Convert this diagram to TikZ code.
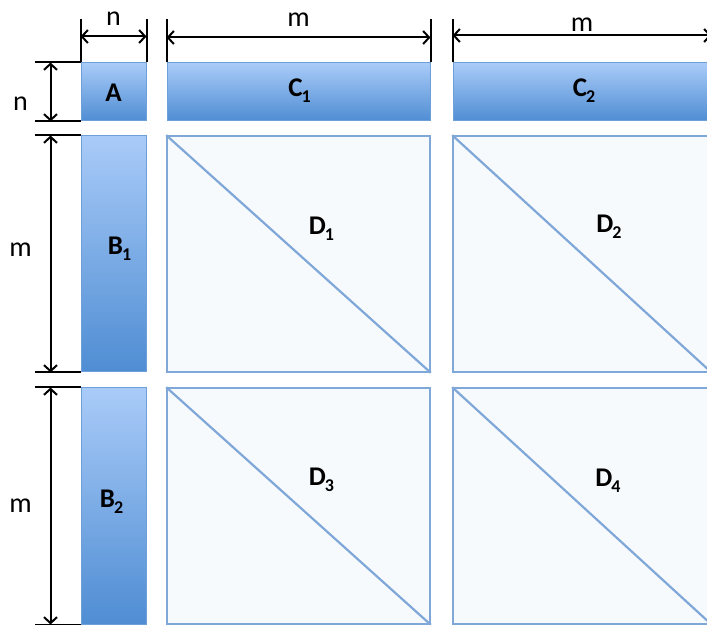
\documentclass[tikz,border=0pt]{standalone}
\usepackage{fontspec}
\setmainfont{Carlito}
\usetikzlibrary{arrows.meta}
\definecolor{blocktop}{HTML}{A9CBF8}
\definecolor{blockbot}{HTML}{4F8DD3}
\definecolor{blockline}{HTML}{6F9FD8}
\definecolor{diagfill}{HTML}{F7FAFD}
\definecolor{diagline}{HTML}{7FA7D8}
\newcommand{\blocksub}[1]{\kern-1pt\raisebox{-6pt}{\fontsize{18}{20}\selectfont\bfseries #1}}

\begin{document}
\begin{tikzpicture}[x=1pt, y=1pt,
	blueblock/.style={top color=blocktop, bottom color=blockbot, draw=blockline, line width=1pt, inner sep=0pt},
	diagblock/.style={fill=diagfill, draw=diagline, line width=1.6pt, inner sep=0pt},
	blocklabel/.style={font=\fontsize{27}{30}\selectfont\bfseries, inner sep=0pt, anchor=base},
	dimlabel/.style={font=\fontsize{28}{32}\selectfont, inner sep=0pt},
	dimline/.style={line width=2pt, {Straight Barb[length=6pt,width=13pt,line width=2pt]}-{Straight Barb[length=6pt,width=13pt,line width=2pt]}},
	tick/.style={line width=2pt}]
	\useasboundingbox (0,0) rectangle (707,624);
	\clip (0,0) rectangle (707,624);
	
	% blocks of the matrix
	\foreach \x/\y/\w/\h/\name in {
		113.5/532/65/58/A,
		113.5/370/65/236/B1,
		113.5/118/65/236/B2,
		298.5/532/263/58/C1,
		582/532/258/58/C2}
	{
		\node [blueblock, minimum width=\w pt, minimum height=\h pt] at (\x,\y) (\name) {};
	}
	
	\foreach \x/\y/\w/\name in {
		298.5/370/263/D1,
		582/370/258/D2,
		298.5/118/263/D3,
		582/118/258/D4}
	{
		\node [diagblock, minimum width=\w pt, minimum height=236pt] at (\x,\y) (\name) {};
		\draw [diagline, line width=2.2pt] (\name.north west) -- (\name.south east);
	}
	
	% labels, placed by their base line
	\node [blocklabel] at ([xshift=0pt,yshift=-10pt]A.center) (lA) {A};
	\foreach \blk/\sub/\dx/\dy in {
		C/1/1/-5,
		C/2/2/-5,
		B/1/6/-1,
		B/2/-2/-2,
		D/1/23/19,
		D/2/27/21,
		D/3/23/20,
		D/4/26/19}
	{
		\node [blocklabel] at ([xshift=\dx pt,yshift=\dy pt]\blk\sub.center) (l\blk\sub) {\blk\blocksub{\sub}};
	}
	
	% dimensions on top
	\foreach \blk/\up in {A/26, C1/25, C2/27}
	{
		\draw [tick] (\blk.north west) -- ++(0,43);
		\draw [tick] (\blk.north east) -- ++(0,43);
		\coordinate (\blk-al) at ([yshift=\up pt]\blk.north west);
		\coordinate (\blk-ar) at ([yshift=\up pt]\blk.north east);
	}
	\draw [dimline] (A-al) -- (A-ar) node [dimlabel, midway, above=10pt] (nA) {n};
	\draw [dimline] (C1-al) -- (C1-ar) node [dimlabel, midway, above=10pt] (mC1) {m};
	\draw [dimline] (C2-al) -- (C2-ar) node [dimlabel, midway, above=3pt] (mC2) {m};
	
	% dimensions on the left
	\foreach \blk in {A,B1,B2}
	{
		\draw [tick] (\blk.north west) -- ++(-46,0);
		\draw [tick] (\blk.south west) -- ++(-46,0);
		\coordinate (\blk-at) at ([xshift=-30pt]\blk.north west);
		\coordinate (\blk-ab) at ([xshift=-30pt]\blk.south west);
	}
	\draw [dimline] (A-at) -- (A-ab);
	\node [dimlabel] at ([xshift=-93pt,yshift=-12pt]A.center) (nAl) {n};
	\draw [dimline] (B1-at) -- (B1-ab);
	\node [dimlabel] at ([xshift=-93pt,yshift=4pt]B1.center) (mB1) {m};
	\draw [dimline] (B2-at) -- (B2-ab);
	\node [dimlabel] at ([xshift=-93pt]B2.center) (mB2) {m};
\end{tikzpicture}
\end{document}
